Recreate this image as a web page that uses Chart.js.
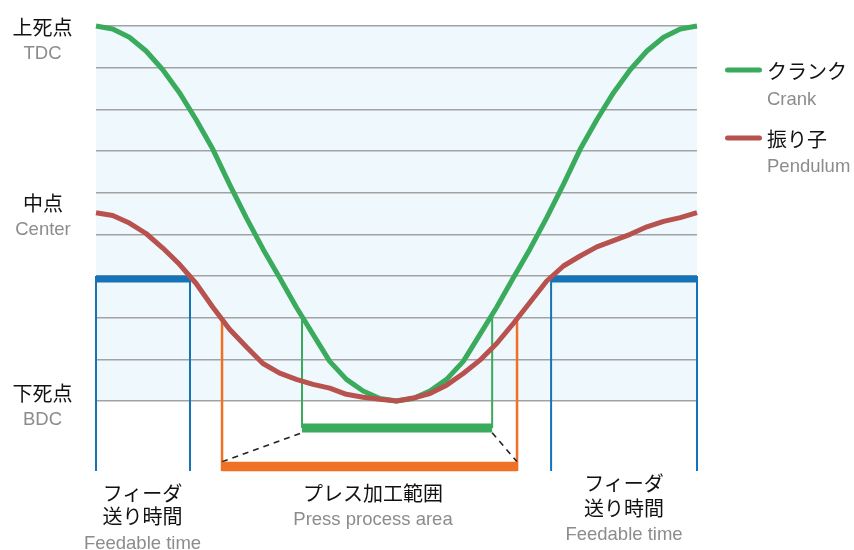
<!DOCTYPE html>
<html lang="ja">
<head>
<meta charset="utf-8">
<script src="https://cdn.jsdelivr.net/npm/chart.js@4.4.1/dist/chart.umd.min.js"></script>
<style>
  html, body { margin: 0; padding: 0; background: #fff; }
  #wrap { position: relative; width: 854px; height: 550px; overflow: hidden; }
  #chart { position: absolute; left: 0; top: 0; }
  .lbl { position: absolute; transform: translate(-50%, -50%); white-space: nowrap; line-height: 1; }
  .leg { transform: translate(0, -50%); }
  .ja { font: 400 20px "Noto Sans CJK JP", sans-serif; color: #111; }
  .en { font: 18.5px "Liberation Sans", Arial, sans-serif; color: #8c8c8c; }
  .swatch { position: absolute; width: 37px; height: 5px; border-radius: 3px; transform: translateY(-50%); }
</style>
</head>
<body>
<div id="wrap"><canvas id="chart" width="854" height="550"></canvas></div>
<script>
// Slide position over one crank revolution: 0 = BDC, 9 = TDC, x = crank angle (deg).
var ANGLES = [0, 10, 20, 30, 40, 50, 60, 70, 80, 90, 100, 110, 120, 130, 140, 150, 160, 170, 180,
              190, 200, 210, 220, 230, 240, 250, 260, 270, 280, 290, 300, 310, 320, 330, 340, 350, 360];
var CRANK = [9.00, 8.93, 8.73, 8.40, 7.95, 7.40, 6.75, 6.04, 5.20, 4.40, 3.65, 2.96, 2.25, 1.60, 0.95, 0.52, 0.24, 0.06, 0.00,
             0.06, 0.24, 0.52, 0.95, 1.60, 2.25, 2.96, 3.65, 4.40, 5.20, 6.04, 6.75, 7.40, 7.95, 8.40, 8.73, 8.93, 9.00];
var PENDULUM = [4.52, 4.45, 4.27, 4.02, 3.67, 3.28, 2.82, 2.25, 1.72, 1.30, 0.90, 0.67, 0.52, 0.40, 0.31, 0.16, 0.09, 0.04, 0.00,
                0.07, 0.18, 0.38, 0.66, 0.98, 1.38, 1.86, 2.37, 2.88, 3.24, 3.48, 3.70, 3.85, 4.00, 4.18, 4.31, 4.40, 4.52];
var SERIES_JA = ["クランク", "振り子"];
var SERIES_EN = ["Crank", "Pendulum"];
var LEVELS = [0, 1, 2, 3, 4, 5, 6, 7, 8, 9];
var Y_LABELS_JA = ["上死点", "中点", "下死点"];
var Y_LABELS_EN = ["TDC", "Center", "BDC"];

// ranges (deg) where the curves cross the feed / press levels
var FEED_RANGES = [[0, 56.3], [272.6, 360]];
var PRESS_RANGE = [75.5, 252.2];
var CRANK_PRESS_RANGE = [123.4, 237.3];
var FEED_LEVEL = 3, PRESS_LEVEL = 2;
var FEED_BAR = 2.93, CRANK_BAR = -0.65, PRESS_BAR = -1.57, AXIS_BOTTOM = -1.68;
var DASH_LOW = -1.46, DASH_HIGH = -0.76;
var RANGE_JA = [["フィーダ", "送り時間"], ["プレス加工範囲"], ["フィーダ", "送り時間"]];
var RANGE_EN = ["Feedable time", "Press process area", "Feedable time"];

var GREEN = "#3aab5c", RED = "#b8524e", BLUE = "#1773b8", ORANGE = "#f07024";

function zip(xs, ys) { return xs.map(function (x, i) { return { x: x, y: ys[i] }; }); }
// vertical segments, broken with null so they are not joined
function verticals(xs, lo, hi) {
  var out = [];
  xs.forEach(function (x) { out.push({ x: x, y: lo }, { x: x, y: hi }, { x: x, y: null }); });
  return out;
}
function seg(style) {
  return Object.assign({ pointRadius: 0, tension: 0, fill: false, spanGaps: false, borderCapStyle: "butt", clip: false }, style);
}

var feedX = [FEED_RANGES[0][0], FEED_RANGES[0][1], FEED_RANGES[1][0], FEED_RANGES[1][1]];

var datasets = [
  seg({ label: SERIES_JA[1], data: zip(ANGLES, PENDULUM), borderColor: RED, borderWidth: 5, borderJoinStyle: "round", order: 0 }),
  seg({ label: SERIES_JA[0], data: zip(ANGLES, CRANK), borderColor: GREEN, borderWidth: 5, borderJoinStyle: "round", order: 1 }),
  // feed time
  seg({ data: verticals(feedX, AXIS_BOTTOM, FEED_LEVEL), borderColor: BLUE, borderWidth: 2, order: 3 }),
  seg({ data: [{ x: FEED_RANGES[0][0], y: FEED_BAR }, { x: FEED_RANGES[0][1], y: FEED_BAR }, { x: null, y: null },
               { x: FEED_RANGES[1][0], y: FEED_BAR }, { x: FEED_RANGES[1][1], y: FEED_BAR }],
        borderColor: BLUE, borderWidth: 7, order: 2 }),
  // press range (pendulum)
  seg({ data: verticals(PRESS_RANGE, AXIS_BOTTOM, PRESS_LEVEL), borderColor: ORANGE, borderWidth: 2.5, order: 3 }),
  seg({ data: zip(PRESS_RANGE, [PRESS_BAR, PRESS_BAR]), borderColor: ORANGE, borderWidth: 9.5, order: 2 }),
  // press range (crank)
  seg({ data: verticals(CRANK_PRESS_RANGE, CRANK_BAR, PRESS_LEVEL), borderColor: GREEN, borderWidth: 2, order: 3 }),
  seg({ data: zip(CRANK_PRESS_RANGE, [CRANK_BAR, CRANK_BAR]), borderColor: GREEN, borderWidth: 9, order: 2 }),
  // dashed links
  seg({ data: [{ x: PRESS_RANGE[0], y: DASH_LOW }, { x: CRANK_PRESS_RANGE[0], y: DASH_HIGH }, { x: null, y: null },
               { x: CRANK_PRESS_RANGE[1], y: DASH_HIGH }, { x: PRESS_RANGE[1], y: DASH_LOW }],
        borderColor: "#222", borderWidth: 1.6, borderDash: [6, 5], order: 2 })
];

var bandFill = {
  id: "bandFill",
  beforeDraw: function (chart) {
    var a = chart.chartArea, y = chart.scales.y, ctx = chart.ctx;
    var top = y.getPixelForValue(LEVELS[LEVELS.length - 1]), bot = y.getPixelForValue(LEVELS[0]);
    ctx.save(); ctx.fillStyle = "#eff8fd"; ctx.fillRect(a.left, top, a.right - a.left, bot - top); ctx.restore();
  }
};

new Chart(document.getElementById("chart"), {
  type: "line",
  data: { datasets: datasets },
  options: {
    responsive: false, animation: false, events: [],
    layout: { padding: { left: 96, right: 157, top: 26, bottom: 79 } },
    plugins: { legend: { display: false }, tooltip: { enabled: false } },
    scales: {
      x: { type: "linear", min: 0, max: 360, display: false },
      y: {
        type: "linear", min: AXIS_BOTTOM, max: 9,
        afterBuildTicks: function (s) { s.ticks = LEVELS.map(function (v) { return { value: v }; }); },
        afterFit: function (s) { s.width = 0; },
        ticks: { display: false },
        grid: { color: "#a2a2a2", lineWidth: 1.5, drawTicks: false },
        border: { display: false }
      }
    }
  },
  plugins: [bandFill]
});

// text overlays
var wrap = document.getElementById("wrap");
function label(text, cls, x, y) {
  var d = document.createElement("div");
  d.className = cls; d.textContent = text;
  d.style.left = x + "px"; d.style.top = y + "px";
  wrap.appendChild(d); return d;
}
var yPos = [[42.5, 26, 52.5], [43, 202, 229], [42.5, 391.5, 418.5]];
Y_LABELS_JA.forEach(function (t, i) {
  label(t, "lbl ja", yPos[i][0], yPos[i][1]);
  label(Y_LABELS_EN[i], "lbl en", yPos[i][0], yPos[i][2]);
});

var rangePos = [[142.5, [491.5, 515], 543], [373, [492], 519], [624, [482, 506.5], 534]];
RANGE_JA.forEach(function (lines, i) {
  var p = rangePos[i];
  lines.forEach(function (t, j) { label(t, "lbl ja", p[0], p[1][j]); });
  label(RANGE_EN[i], "lbl en", p[0], p[2]);
});

var legY = [[70, 99], [138, 166]];
var legColors = [GREEN, RED];
SERIES_JA.forEach(function (t, i) {
  var sw = document.createElement("div");
  sw.className = "swatch"; sw.style.left = "725px"; sw.style.top = legY[i][0] + "px";
  sw.style.background = legColors[i]; wrap.appendChild(sw);
  label(t, "lbl leg ja", 767, legY[i][0]);
  label(SERIES_EN[i], "lbl leg en", 767, legY[i][1]);
});
</script>
</body>
</html>
